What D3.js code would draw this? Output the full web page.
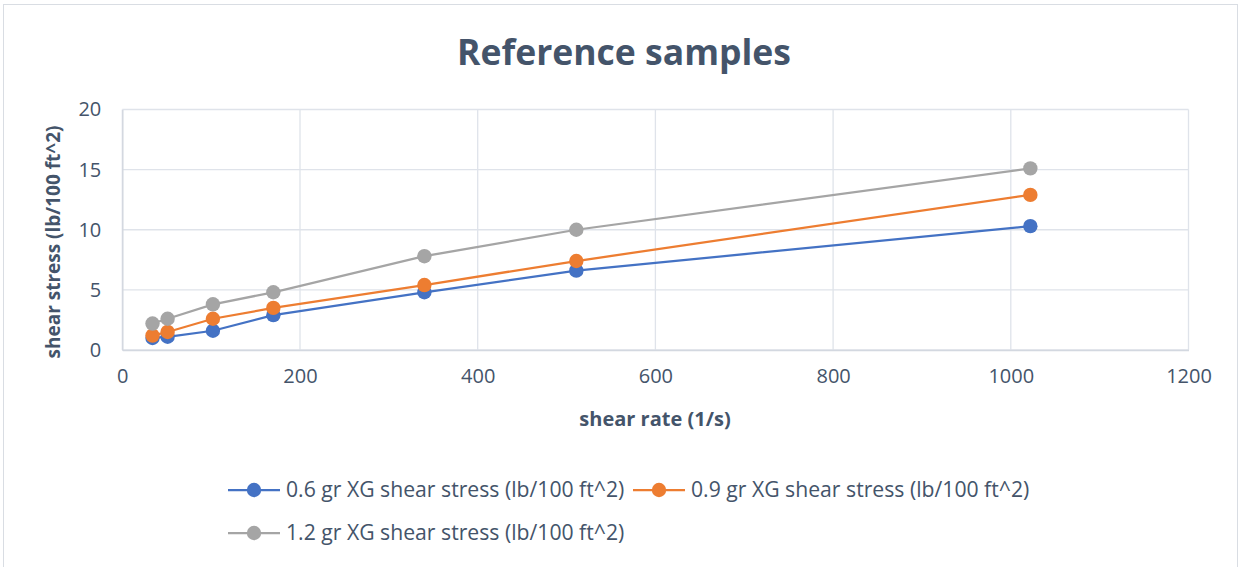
<!DOCTYPE html>
<html>
<head>
<meta charset="utf-8">
<script src="https://cdn.jsdelivr.net/npm/d3@7"></script>
<style>
  html, body { margin: 0; padding: 0; background: #fff; }
  svg { display: block; }
</style>
</head>
<body>
<svg id="chart" width="1242" height="567"></svg>
<script>
// Shear rate (1/s) for each viscometer reading
const shearRate = [34, 51, 102, 170, 340, 511, 1022];

// Shear stress (lb/100 ft^2) for each xanthan gum concentration
const xg06 = [1.0, 1.1, 1.6, 2.9, 4.8, 6.6, 10.3];
const xg09 = [1.2, 1.5, 2.6, 3.5, 5.4, 7.4, 12.9];
const xg12 = [2.2, 2.6, 3.8, 4.8, 7.8, 10.0, 15.1];

const seriesNames = [
  "0.6 gr XG shear stress (lb/100 ft^2)",
  "0.9 gr XG shear stress (lb/100 ft^2)",
  "1.2 gr XG shear stress (lb/100 ft^2)"
];
const seriesColors = ["#4472C4", "#ED7D31", "#A5A5A5"];

const xTicks = [0, 200, 400, 600, 800, 1000, 1200];
const yTicks = [0, 5, 10, 15, 20];

const titleText = "Reference samples";
const xTitle = "shear rate (1/s)";
const yTitle = "shear stress (lb/100 ft^2)";

const series = [xg06, xg09, xg12].map((vals, i) => ({
  name: seriesNames[i],
  color: seriesColors[i],
  points: vals.map((v, j) => ({ x: shearRate[j], y: v }))
}));

const svg = d3.select("#chart");
const font = "'Open Sans', sans-serif";
const textColor = "#44546A";

// Outer chart frame
svg.append("rect")
  .attr("x", 3.5).attr("y", 4.5)
  .attr("width", 1234).attr("height", 570)
  .attr("fill", "#fff").attr("stroke", "#d9dde3").attr("stroke-width", 1);

const plot = { left: 122.3, right: 1188.5, top: 109.5, bottom: 350 };

const x = d3.scaleLinear().domain([0, 1200]).range([plot.left, plot.right]);
const y = d3.scaleLinear().domain([0, 20]).range([plot.bottom, plot.top]);

// Gridlines
const grid = svg.append("g").attr("stroke", "#dfe3ea").attr("stroke-width", 1.3);
grid.selectAll("line.h").data(yTicks).join("line")
  .attr("class", "h")
  .attr("x1", plot.left).attr("x2", plot.right)
  .attr("y1", d => y(d)).attr("y2", d => y(d));
grid.selectAll("line.v").data(xTicks).join("line")
  .attr("class", "v")
  .attr("y1", plot.top).attr("y2", plot.bottom)
  .attr("x1", d => x(d)).attr("x2", d => x(d));

// Axes (tick labels only, styled like the gridlines)
const xAxis = svg.append("g")
  .attr("transform", `translate(0,${plot.bottom})`)
  .call(d3.axisBottom(x).tickValues(xTicks).tickFormat(d3.format("d")).tickSize(0).tickPadding(26));
const yAxis = svg.append("g")
  .attr("transform", `translate(${plot.left},0)`)
  .call(d3.axisLeft(y).tickValues(yTicks).tickFormat(d3.format("d")).tickSize(0).tickPadding(21));
[xAxis, yAxis].forEach(a => {
  a.select(".domain").attr("stroke", "#d3d8e0").attr("stroke-width", 1.5);
  a.selectAll("text")
    .attr("fill", textColor)
    .style("font-family", font)
    .style("font-size", "20px");
});
xAxis.selectAll("text").attr("dy", "0.35em");

// Lines and markers
const line = d3.line().x(d => x(d.x)).y(d => y(d.y));
series.forEach(s => {
  svg.append("path")
    .datum(s.points)
    .attr("fill", "none")
    .attr("stroke", s.color)
    .attr("stroke-width", 2.25)
    .attr("d", line);
});
series.forEach(s => {
  svg.append("g").selectAll("circle").data(s.points).join("circle")
    .attr("cx", d => x(d.x)).attr("cy", d => y(d.y))
    .attr("r", 7.2)
    .attr("fill", s.color);
});

// Titles
svg.append("text")
  .attr("x", 624).attr("y", 65)
  .attr("text-anchor", "middle")
  .attr("fill", "#44546A")
  .style("font-family", font).style("font-weight", "bold").style("font-size", "35.5px")
  .text(titleText);

svg.append("text")
  .attr("x", 655).attr("y", 426)
  .attr("text-anchor", "middle")
  .attr("fill", textColor)
  .style("font-family", font).style("font-weight", "bold").style("font-size", "20px")
  .text(xTitle);

svg.append("text")
  .attr("transform", "translate(60,242) rotate(-90)")
  .attr("text-anchor", "middle")
  .attr("fill", textColor)
  .style("font-family", font).style("font-weight", "bold").style("font-size", "19px")
  .text(yTitle);

// Legend
const legendPos = [
  { x: 228, y: 490 },
  { x: 633, y: 490 },
  { x: 228, y: 533 }
];
series.forEach((s, i) => {
  const g = svg.append("g").attr("transform", `translate(${legendPos[i].x},${legendPos[i].y})`);
  g.append("line").attr("x1", 0).attr("x2", 52).attr("y1", 0).attr("y2", 0)
    .attr("stroke", s.color).attr("stroke-width", 2.25);
  g.append("circle").attr("cx", 26).attr("cy", 0).attr("r", 7.2).attr("fill", s.color);
  g.append("text").attr("x", 58).attr("y", 0).attr("dy", "0.35em")
    .attr("fill", textColor)
    .style("font-family", font).style("font-size", "21.2px")
    .text(s.name);
});
</script>
</body>
</html>
